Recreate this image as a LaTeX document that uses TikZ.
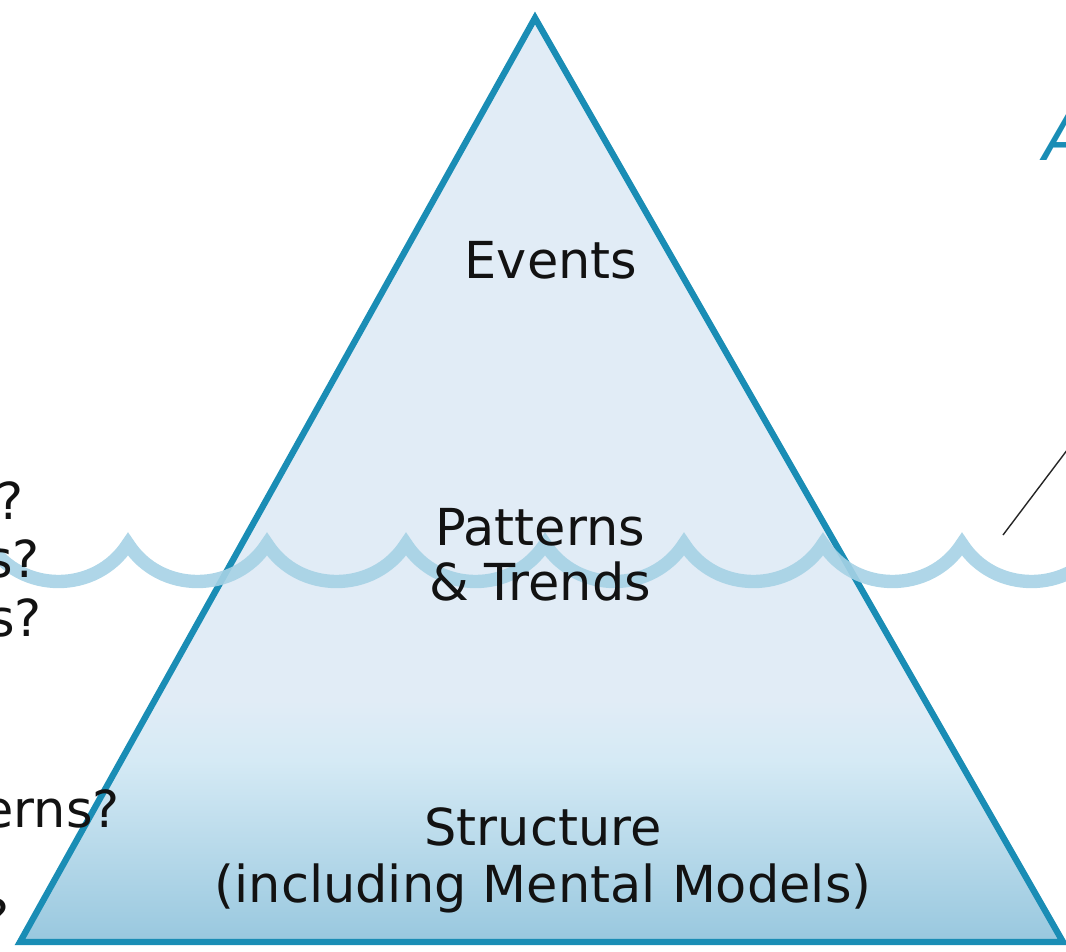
\documentclass[tikz,border=0pt]{standalone}
\usepackage{fontspec}
\setmainfont{DejaVu Sans}
\definecolor{iceline}{HTML}{1A8DB5}
\definecolor{icetop}{HTML}{E1ECF6}
\definecolor{icemid}{HTML}{D5EAF5}
\definecolor{icebot}{HTML}{97C7DE}
\definecolor{waterline}{HTML}{A6D2E5}
\definecolor{inkblack}{HTML}{121212}

\begin{document}
\begin{tikzpicture}[%
    x=0.02cm, y=-0.02cm,        % one unit is one pixel of the sketch, y runs down
    line join=miter,
    ]
% -------------------------------------------------
% A few styles
\tikzset{
  label/.style={font=\fontsize{29}{31}\selectfont, text=inkblack, inner sep=0pt, anchor=base},
  cut/.style={label, anchor=base east},
  ice/.style={draw=iceline, line width=3.6pt},
  wave/.style={draw=waterline, line width=7.6pt, opacity=.9},
  pointer/.style={draw=black!85, line width=.8pt}
}
\useasboundingbox (0,0) rectangle (1066,951);
% -------------------------------------------------
% The iceberg
\coordinate (tip) at (535,18);
\coordinate (bl) at (20,942);
\coordinate (br) at (1063,942);
\begin{scope}
  \clip (tip) -- (bl) -- (br) -- cycle;
  \fill[icetop] (0,0) rectangle (1066,951);
  \shade[top color=icetop, bottom color=icemid] (0,700) rectangle (1066,760);
  \shade[top color=icemid, bottom color=icebot] (0,760) rectangle (1066,946);
\end{scope}
\draw[ice] (tip) -- (bl) -- (br) -- cycle;

% The water line, one scallop per step
\draw[wave] (-11,544)
  \foreach \k [evaluate=\k as \x using -11+139*\k] in {1,...,8}
    { .. controls +(32,50) and +(-32,50) .. (\x,544) };

% -------------------------------------------------
% Levels
\node[label] (events) at (551,278) {Events};
\node[label] (patterns) at (540,545) {Patterns};
\node[label] (trends) at (540,600) {\& Trends};
\node[label] (structure) at (543,845) {Structure};
\node[label] (models) at (543,902) {(including Mental Models)};

% Questions running in from the left edge
\node[cut] (q1) at (24,519) {?};
\node[cut] (q2) at (40,577) {s?};
\node[cut] (q3) at (42,636) {s?};
\node[cut] (q4) at (120,827) {erns?};
\node[cut] (q5) at (10,936) {?};

% Note on the right edge
\node[anchor=base west, inner sep=0pt, font=\fontsize{38}{40}\selectfont\itshape,
  text=iceline] (above) at (1043,160) {A};
\coordinate (ptrfoot) at (1003,535);
\coordinate (ptrhead) at (1080,433);
\draw[pointer] (ptrfoot) -- (ptrhead);
% -------------------------------------------------
\end{tikzpicture}
\end{document}
